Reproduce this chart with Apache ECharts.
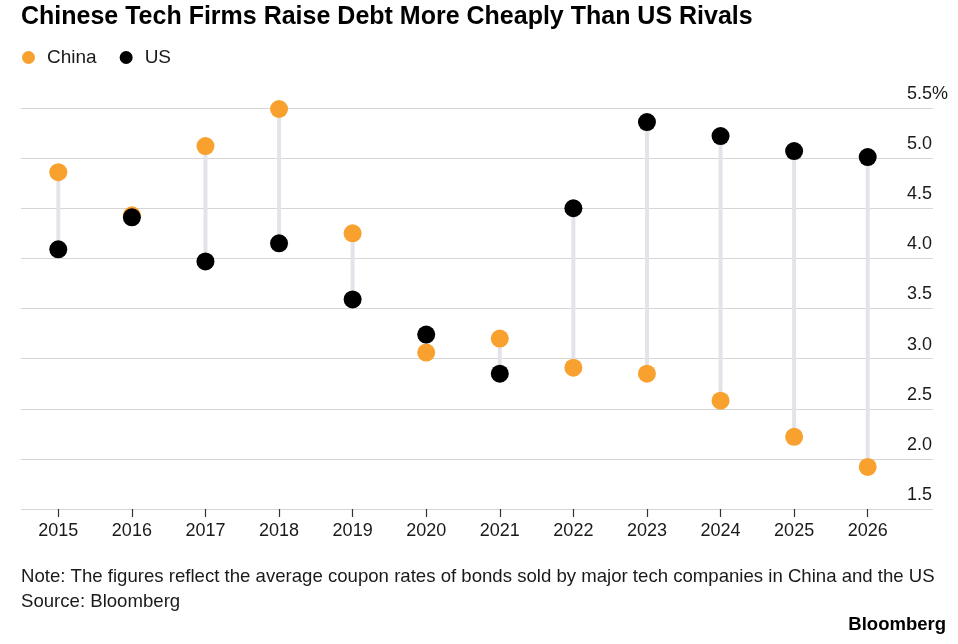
<!DOCTYPE html>
<html>
<head>
<meta charset="utf-8">
<style>
  html, body { margin: 0; padding: 0; background: #fff; }
  #chart { width: 958px; height: 644px; }
</style>
<script src="https://cdn.jsdelivr.net/npm/echarts@6/dist/echarts.min.js"></script>
</head>
<body>
<div id="chart"></div>
<script>
// Average coupon rate (%) of bonds sold by major tech firms
const years = ['2015', '2016', '2017', '2018', '2019', '2020', '2021', '2022', '2023', '2024', '2025', '2026']
const china = [4.86, 4.43, 5.12, 5.49, 4.25, 3.06, 3.20, 2.91, 2.85, 2.58, 2.22, 1.92]
const us = [4.09, 4.41, 3.97, 4.15, 3.59, 3.24, 2.85, 4.50, 5.36, 5.22, 5.07, 5.01]

const FONT = '"Liberation Sans", Arial, Helvetica, sans-serif'
const ORANGE = '#f9a12e'

// one [index, china, us] row per year, used by the connector series
const pairs = years.map(function (y, i) { return [i, china[i], us[i]] })

const chart = echarts.init(document.getElementById('chart'))
chart.setOption({
  animation: false,
  backgroundColor: '#fff',
  textStyle: { fontFamily: FONT },
  title: {
    text: 'Chinese Tech Firms Raise Debt More Cheaply Than US Rivals',
    left: 21, top: 5, padding: 0,
    textStyle: { fontSize: 25, fontWeight: 'bold', color: '#000', fontFamily: FONT }
  },
  legend: {
    data: ['China', 'US'],
    left: 22, top: 48, padding: 0,
    icon: 'circle', itemWidth: 13, itemHeight: 13, itemGap: 23,
    textStyle: { fontSize: 19, color: '#1a1a1a', padding: [0, 0, 0, 7], fontFamily: FONT }
  },
  // grid 0 carries the full-width gridlines and right-hand labels,
  // grid 1 holds the year bands (gridlines run past the last band)
  grid: [
    { left: 21, right: 25, top: 108, bottom: 135 },
    { left: 21.5, width: 883, top: 108, bottom: 135 }
  ],
  xAxis: [
    { gridIndex: 0, type: 'value', min: 0, max: 1, show: false },
    {
      gridIndex: 1, type: 'category', data: years,
      axisLine: { show: false },
      axisTick: { show: true, alignWithLabel: true, length: 8, lineStyle: { color: '#333', width: 1.2 } },
      axisLabel: { fontSize: 18, color: '#1a1a1a', margin: 13, fontFamily: FONT },
      splitLine: { show: false }
    }
  ],
  yAxis: [
    {
      gridIndex: 0, type: 'value', position: 'right',
      min: 1.5, max: 5.5, interval: 0.5,
      axisLine: { show: false }, axisTick: { show: false },
      splitLine: { lineStyle: { color: '#d6d6d6', width: 1.2 } },
      axisLabel: {
        formatter: function (v) { return v === 5.5 ? '5.5%' : v.toFixed(1) },
        align: 'left', verticalAlign: 'bottom', margin: -26,
        padding: [0, 0, 5, 0],
        fontSize: 18, color: '#1a1a1a', fontFamily: FONT
      }
    },
    { gridIndex: 1, type: 'value', min: 1.5, max: 5.5, interval: 0.5, show: false }
  ],
  series: [
    {
      type: 'custom', xAxisIndex: 1, yAxisIndex: 1,
      data: pairs,
      encode: { x: 0, y: [1, 2] },
      silent: true,
      renderItem: function (params, api) {
        const a = api.coord([api.value(0), api.value(1)])
        const b = api.coord([api.value(0), api.value(2)])
        return {
          type: 'line',
          shape: { x1: a[0], y1: a[1], x2: b[0], y2: b[1] },
          style: { stroke: '#e3e3ea', lineWidth: 4 }
        }
      }
    },
    {
      name: 'China', type: 'scatter', xAxisIndex: 1, yAxisIndex: 1,
      data: china, symbolSize: 18,
      itemStyle: { color: ORANGE, opacity: 1 }
    },
    {
      name: 'US', type: 'scatter', xAxisIndex: 1, yAxisIndex: 1,
      data: us, symbolSize: 18,
      itemStyle: { color: '#000', opacity: 1 }
    }
  ],
  graphic: [
    {
      type: 'text', left: 21, top: 567,
      style: {
        text: 'Note: The figures reflect the average coupon rates of bonds sold by major tech companies in China and the US',
        font: '18.6px ' + FONT, fill: '#1a1a1a'
      }
    },
    {
      type: 'text', left: 21, top: 592,
      style: { text: 'Source: Bloomberg', font: '18.6px ' + FONT, fill: '#1a1a1a' }
    },
    {
      type: 'text', right: 12, top: 615,
      style: { text: 'Bloomberg', font: 'bold 18.5px ' + FONT, fill: '#000' }
    }
  ]
})
</script>
</body>
</html>
